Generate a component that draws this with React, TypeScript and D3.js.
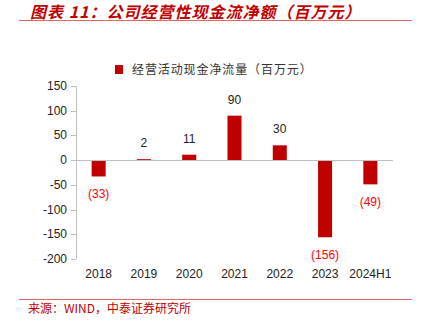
import React from "react";
import * as d3 from "d3";

const categories = ["2018", "2019", "2020", "2021", "2022", "2023", "2024H1"];
const values = [-33, 2, 11, 90, 30, -156, -49];
const yTicks = [150, 100, 50, 0, -50, -100, -150, -200];
const titleText = "图表 11：公司经营性现金流净额（百万元）";
const legendText = "经营活动现金净流量（百万元）";
const sourceText = "来源：WIND，中泰证券研究所";

const W = 422;
const H = 328;
const RED = "#C00000";

export default function App() {
  const x = d3.scaleBand<string>().domain(categories).range([76, 393]).paddingInner(0.69).paddingOuter(0.345);
  const y = d3.scaleLinear().domain([-200, 150]).range([259, 86]);
  const fmt = (v: number) => (v < 0 ? `(${Math.abs(v)})` : `${v}`);
  const font = "Arial, 'Liberation Sans', sans-serif";
  return (
    <svg width={W} height={H} style={{ position: "absolute", left: 0, top: 0 }}>
      <rect width={W} height={H} fill="#fff" />
      <text x={30} y={18} fill={RED} fontSize={16} fontWeight="bold" fontStyle="italic" letterSpacing={1}
        fontFamily="'Noto Sans CJK SC', sans-serif">{titleText}</text>
      <line x1={19} x2={412} y1={20.5} y2={20.5} stroke="#E06666" strokeWidth={1.2} />
      <rect x={115} y={65} width={8} height={9} fill={RED} />
      <text x={132} y={74} fontSize={12} fill="#333" letterSpacing={0.9} fontFamily="'Noto Sans CJK SC', sans-serif">{legendText}</text>
      <line x1={76.5} x2={76.5} y1={y(150)} y2={y(-200)} stroke="#BFBFBF" />
      {yTicks.map((t) => (
        <g key={t}>
          <line x1={71} x2={76} y1={Math.round(y(t)) + 0.5} y2={Math.round(y(t)) + 0.5} stroke="#BFBFBF" />
          <text x={67} y={y(t) + 4} textAnchor="end" fontSize={12} fill="#222" fontFamily={font}>{t}</text>
        </g>
      ))}
      {values.map((v, i) => {
        const c = categories[i];
        const x0 = x(c)!;
        const bw = x.bandwidth();
        const top = y(Math.max(v, 0));
        const bot = y(Math.min(v, 0));
        return (
          <g key={c}>
            <rect x={x0} y={top} width={bw} height={Math.max(bot - top, 1)} fill={RED} />
            <text x={x0 + bw / 2} y={v >= 0 ? top - 12 : bot + 22} textAnchor="middle" fontSize={12}
              fill={v >= 0 ? "#222" : "#FF0000"} fontFamily={font}>{fmt(v)}</text>
            <text x={x0 + bw / 2} y={278} textAnchor="middle" fontSize={12} fill="#222" fontFamily={font}>{c}</text>
          </g>
        );
      })}
      <line x1={76} x2={393} y1={Math.round(y(0)) + 0.5} y2={Math.round(y(0)) + 0.5} stroke="#BFBFBF" />
      <line x1={19} x2={412} y1={299.5} y2={299.5} stroke="#E06666" strokeWidth={1.2} />
      <text x={28} y={313} fill={RED} fontSize={12} fontFamily="'Noto Sans CJK SC', sans-serif">{sourceText}</text>
    </svg>
  );
}
